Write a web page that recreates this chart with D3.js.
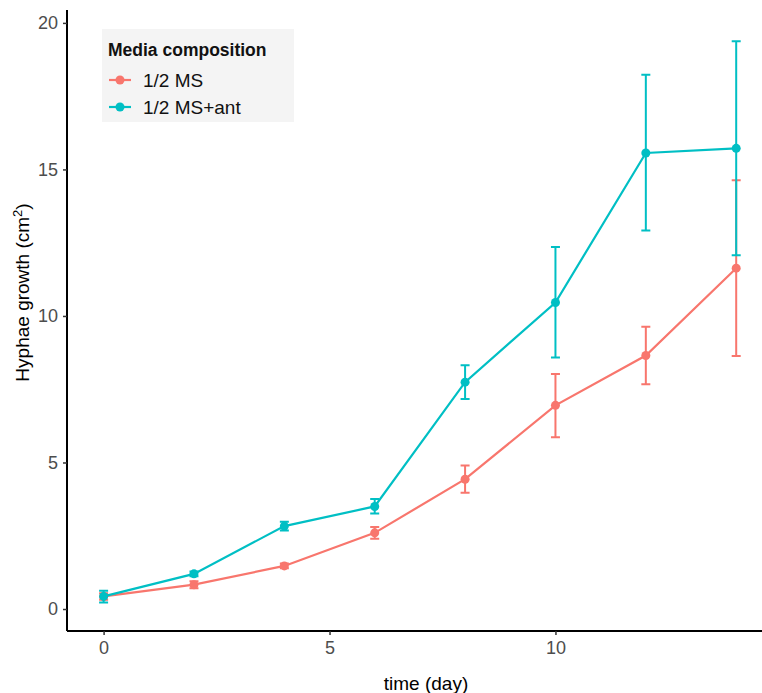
<!DOCTYPE html>
<html>
<head>
<meta charset="utf-8">
<script src="https://cdn.jsdelivr.net/npm/d3@7"></script>
<style>
  body { margin: 0; background: #fff; }
  svg { display: block; font-family: "Liberation Sans", Arial, Helvetica, sans-serif; }
</style>
</head>
<body>
<div id="chart"></div>
<script>
// Data
const days = [0, 2, 4, 6, 8, 10, 12, 14];
const seriesNames = ["1/2 MS", "1/2 MS+ant"];
const msMean = [0.43, 0.83, 1.47, 2.6, 4.43, 6.95, 8.65, 11.63];
const msLow  = [0.32, 0.71, 1.39, 2.4, 3.97, 5.86, 7.67, 8.63];
const msHigh = [0.54, 0.95, 1.55, 2.8, 4.9, 8.02, 9.63, 14.63];
const antMean = [0.43, 1.2, 2.83, 3.5, 7.74, 10.46, 15.56, 15.72];
const antLow  = [0.22, 1.12, 2.68, 3.26, 7.17, 8.58, 12.92, 12.07];
const antHigh = [0.62, 1.28, 2.98, 3.75, 8.32, 12.35, 18.23, 19.37];
const xTicks = [0, 5, 10];
const yTicks = [0, 5, 10, 15, 20];
const colors = ["#F8766D", "#00BFC4"];

const width = 762, height = 693;
const panel = { left: 67, top: 10, right: 785, bottom: 631 };

const series = [
  { name: seriesNames[0], color: colors[0],
    values: days.map((d, i) => ({ x: d, y: msMean[i], lo: msLow[i], hi: msHigh[i] })) },
  { name: seriesNames[1], color: colors[1],
    values: days.map((d, i) => ({ x: d, y: antMean[i], lo: antLow[i], hi: antHigh[i] })) }
];

const x = d3.scaleLinear().domain([-0.81, 15.08]).range([panel.left, panel.right]);
const y = d3.scaleLinear().domain([-0.75, 20.44]).range([panel.bottom, panel.top]);

const svg = d3.select("#chart").append("svg")
  .attr("width", width)
  .attr("height", height);

// Axes
const xAxis = svg.append("g")
  .attr("transform", `translate(0,${panel.bottom})`)
  .call(d3.axisBottom(x).tickValues(xTicks).tickSize(4).tickPadding(6).tickSizeOuter(0));
const yAxis = svg.append("g")
  .attr("transform", `translate(${panel.left},0)`)
  .call(d3.axisLeft(y).tickValues(yTicks).tickSize(4).tickPadding(5).tickSizeOuter(0));

[xAxis, yAxis].forEach(a => {
  a.select(".domain").attr("stroke", "#000").attr("stroke-width", 2);
  a.selectAll(".tick line").attr("stroke", "#333").attr("stroke-width", 1.5);
  a.selectAll(".tick text").attr("fill", "#4D4D4D").style("font-size", "18px");
});
xAxis.select(".domain").attr("d", `M${panel.left},0H${width}`);
yAxis.select(".domain").attr("d", `M0,${panel.bottom}V${panel.top}`);

// Axis titles
svg.append("text")
  .attr("x", (panel.left + panel.right) / 2)
  .attr("y", 690)
  .attr("text-anchor", "middle")
  .style("font-size", "19px")
  .text("time (day)");

const yt = svg.append("text")
  .attr("transform", `translate(29,${(panel.top + panel.bottom) / 2 - 28}) rotate(-90)`)
  .attr("text-anchor", "middle")
  .style("font-size", "19px");
yt.append("tspan").text("Hyphae growth (cm");
yt.append("tspan").attr("dy", -7).style("font-size", "13px").text("2");
yt.append("tspan").attr("dy", 7).text(")");

// Series
const line = d3.line().x(d => x(d.x)).y(d => y(d.y));
const capW = 4.5;

series.forEach(s => {
  const g = svg.append("g");
  g.selectAll("path.err")
    .data(s.values)
    .join("path")
    .attr("class", "err")
    .attr("fill", "none")
    .attr("stroke", s.color)
    .attr("stroke-width", 2)
    .attr("d", d => `M${x(d.x) - capW},${y(d.hi)}H${x(d.x) + capW}M${x(d.x)},${y(d.hi)}V${y(d.lo)}M${x(d.x) - capW},${y(d.lo)}H${x(d.x) + capW}`);
  g.append("path")
    .datum(s.values)
    .attr("fill", "none")
    .attr("stroke", s.color)
    .attr("stroke-width", 2.2)
    .attr("d", line);
  g.selectAll("circle")
    .data(s.values)
    .join("circle")
    .attr("cx", d => x(d.x))
    .attr("cy", d => y(d.y))
    .attr("r", 4.5)
    .attr("fill", s.color);
});

// Legend
const legend = svg.append("g").attr("transform", "translate(102,29)");
legend.append("rect")
  .attr("width", 192)
  .attr("height", 93)
  .attr("fill", "#F4F4F4");
legend.append("text")
  .attr("x", 6)
  .attr("y", 27)
  .style("font-size", "17.5px")
  .style("font-weight", "bold")
  .attr("fill", "#111")
  .text("Media composition");
series.forEach((s, i) => {
  const row = legend.append("g").attr("transform", `translate(0,${51 + i * 27})`);
  row.append("line")
    .attr("x1", 7).attr("x2", 29)
    .attr("stroke", s.color).attr("stroke-width", 2.2);
  row.append("circle").attr("cx", 18).attr("r", 4.5).attr("fill", s.color);
  row.append("text")
    .attr("x", 41)
    .attr("dy", "0.35em")
    .style("font-size", "19px")
    .attr("fill", "#111")
    .text(s.name);
});
</script>
</body>
</html>
